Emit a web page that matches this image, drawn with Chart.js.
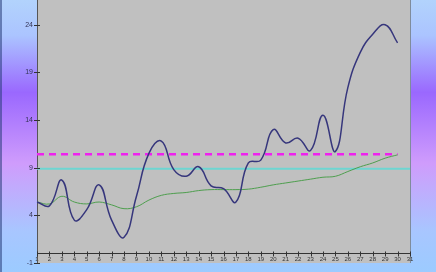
<!DOCTYPE html>
<html>
<head>
<meta charset="utf-8">
<script src="https://cdn.jsdelivr.net/npm/chart.js@4.4.1/dist/chart.umd.min.js"></script>
<style>
  html, body { margin: 0; padding: 0; background: #fff; }
  canvas { display: block; }
</style>
</head>
<body>
<canvas id="chart" width="436" height="272"></canvas>
<script>
// tick labels
const xLabels = ['1','2','3','4','5','6','7','8','9','10','11','12','13','14','15','16','17','18','19','20','21','22','23','24','25','26','27','28','29','30','31'];
const yTicks = [-1, 4, 9, 14, 19, 24];

// series values
const mainValues = [5.4, 5.0, 7.7, 3.5, 4.6, 7.2, 3.5, 1.7, 6.0, 10.5, 11.8, 8.8, 8.1, 9.1, 7.1, 6.8, 5.4, 9.5, 9.8, 13.0, 11.6, 12.1, 10.8, 14.5, 10.7, 17.4, 21.1, 23.0, 24.0, 22.1];
const avgValues = [5.4, 5.2, 6.0, 5.4, 5.2, 5.4, 5.1, 4.7, 4.9, 5.6, 6.1, 6.3, 6.4, 6.6, 6.7, 6.7, 6.7, 6.75, 6.95, 7.2, 7.4, 7.6, 7.8, 8.0, 8.1, 8.6, 9.1, 9.5, 10.0, 10.35];
const upperValues = [10.4, 10.4, 10.4, 10.4, 10.4, 10.4, 10.4, 10.4, 10.4, 10.4, 10.4, 10.4, 10.4, 10.4, 10.4, 10.4, 10.4, 10.4, 10.4, 10.4, 10.4, 10.4, 10.4, 10.4, 10.4, 10.4, 10.4, 10.4, 10.4, 10.4];
const meanValues = [8.9, 8.9, 8.9, 8.9, 8.9, 8.9, 8.9, 8.9, 8.9, 8.9, 8.9, 8.9, 8.9, 8.9, 8.9, 8.9, 8.9, 8.9, 8.9, 8.9, 8.9, 8.9, 8.9, 8.9, 8.9, 8.9, 8.9, 8.9, 8.9, 8.9, 8.9];

const backdrop = {
  id: 'backdrop',
  beforeDraw(chart) {
    const ctx = chart.ctx;
    const a = chart.chartArea;
    const g = ctx.createLinearGradient(0, 0, 0, chart.height);
    g.addColorStop(0, '#b2d3fc');
    g.addColorStop(0.13, '#abc4ff');
    g.addColorStop(0.34, '#9a68fe');
    g.addColorStop(0.6, '#cf9cfc');
    g.addColorStop(0.85, '#a8c6ff');
    g.addColorStop(1, '#9ccbff');
    ctx.save();
    ctx.fillStyle = g;
    ctx.fillRect(0, 0, chart.width, chart.height);
    ctx.fillStyle = 'rgba(40,60,120,0.55)';
    ctx.fillRect(0, 0, 2, chart.height);
    ctx.fillStyle = '#c0c0c0';
    ctx.fillRect(a.left, a.top, a.right - a.left, a.bottom - a.top);
    ctx.fillStyle = '#7f8c9c';
    ctx.fillRect(a.right, a.top, 1, a.bottom - a.top);
    ctx.restore();
  },
  afterDraw(chart) {
    const ctx = chart.ctx;
    const x = chart.scales.x, y = chart.scales.y;
    const y0 = y.getPixelForValue(0);
    ctx.save();
    ctx.strokeStyle = '#333';
    ctx.lineWidth = 1;
    ctx.beginPath();
    x.ticks.forEach((t, i) => {
      const px = Math.round(x.getPixelForTick(i)) + 0.5;
      ctx.moveTo(px, y0 - 2);
      ctx.lineTo(px, y0 + 3);
    });
    yTicks.forEach(v => {
      const py = Math.round(y.getPixelForValue(v)) + 0.5;
      ctx.moveTo(34, py);
      ctx.lineTo(40, py);
    });
    ctx.stroke();
    ctx.restore();
  }
};

new Chart(document.getElementById('chart'), {
  type: 'line',
  data: {
    labels: xLabels,
    datasets: [
      {
        data: mainValues,
        borderColor: '#36367c',
        borderWidth: 1.5,
        pointRadius: 0,
        tension: 0.45,
        fill: false
      },
      {
        data: avgValues,
        borderColor: '#4e9e4e',
        borderWidth: 1,
        pointRadius: 0,
        tension: 0.4,
        fill: false
      },
      {
        data: upperValues,
        borderColor: '#ee22ee',
        borderWidth: 2.5,
        borderDash: [7, 5],
        pointRadius: 0,
        fill: false
      },
      {
        data: meanValues,
        borderColor: '#6dd6d2',
        borderWidth: 2,
        pointRadius: 0,
        fill: false
      }
    ]
  },
  options: {
    responsive: false,
    animation: false,
    layout: { padding: { left: 0, right: 26, top: 0, bottom: 9 } },
    plugins: {
      legend: { display: false },
      tooltip: { enabled: false }
    },
    scales: {
      x: {
        position: { y: 0 },
        offset: false,
        grid: { display: false, drawTicks: false },
        border: { display: true, color: '#333', width: 1 },
        ticks: {
          autoSkip: false,
          maxRotation: 0,
          padding: 2,
          color: '#333',
          font: { family: 'Liberation Sans, Arial', size: 6 }
        }
      },
      y: {
        min: -1,
        max: 26.6,
        afterBuildTicks(scale) {
          scale.ticks = yTicks.map(v => ({ value: v }));
        },
        afterFit(scale) {
          scale.width = 37;
          scale.paddingTop = 0;
          scale.paddingBottom = 0;
        },
        grid: { display: false, drawTicks: false },
        border: { display: true, color: '#555', width: 1 },
        ticks: {
          padding: 4,
          color: '#333355',
          font: { family: 'Liberation Sans, Arial', size: 7 }
        }
      }
    }
  },
  plugins: [backdrop]
});
</script>
</body>
</html>
